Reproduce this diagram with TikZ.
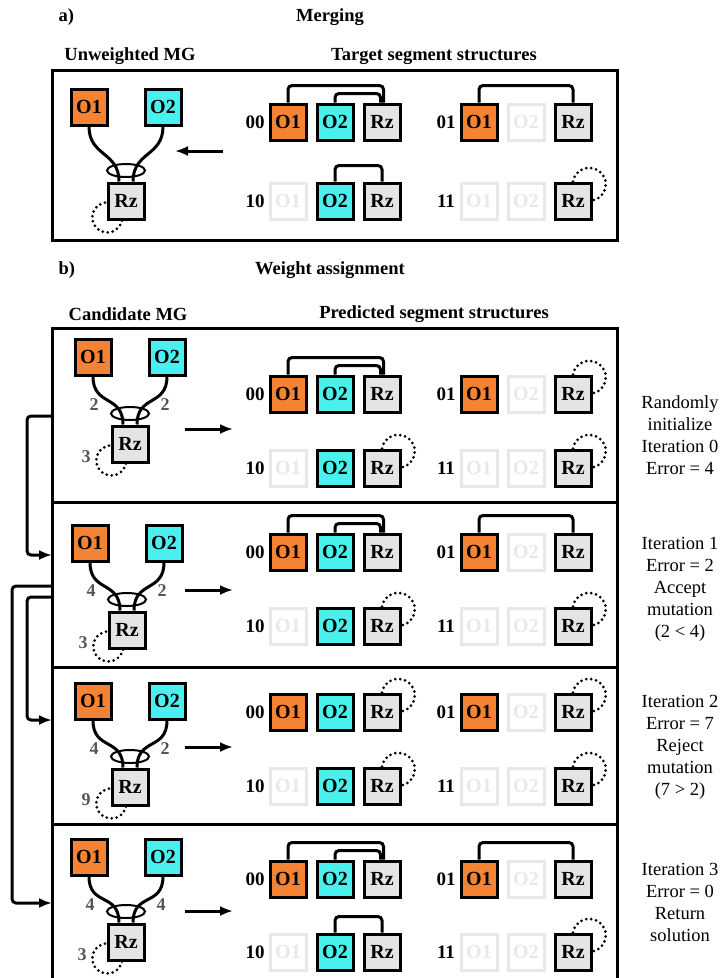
\documentclass[tikz,border=0pt]{standalone}
\usepackage{fontspec}
\setmainfont{Liberation Serif}
\usetikzlibrary{calc,arrows.meta}

\definecolor{BoxOrange}{RGB}{245,131,52}
\definecolor{BoxCyan}{RGB}{74,240,238}
\definecolor{BoxGrey}{RGB}{228,228,228}
\definecolor{BoxFaded}{RGB}{232,232,232}
\definecolor{WeightGrey}{RGB}{85,85,85}

\tikzset{
  box/.style={draw, line width=3pt, minimum size=36pt, inner sep=0pt,
    font=\fontsize{20}{22}\selectfont\bfseries},
  oonebox/.style={box, fill=BoxOrange},
  otwobox/.style={box, fill=BoxCyan},
  rzbox/.style={box, fill=BoxGrey},
  fadedbox/.style={box, draw=BoxFaded, text=BoxFaded},
  labelcode/.style={font=\fontsize{19}{22}\selectfont\bfseries},
  title/.style={font=\fontsize{18.5}{22}\selectfont\bfseries},
  note/.style={font=\fontsize{18.5}{22}\selectfont, align=center},
  weight/.style={font=\fontsize{18}{20}\selectfont\bfseries, text=WeightGrey},
  link/.style={line width=3pt, rounded corners=4pt},
  mgline/.style={line width=3pt},
  ring/.style={line width=2pt},
  dotloop/.style={line width=3pt, line cap=round, dash pattern=on 0pt off 5pt},
  flow/.style={line width=3pt, -{Latex[length=13pt, width=10pt]}},
  panelframe/.style={line width=3pt},
}

% grafo O1, O2 -> Rz
\newcommand{\mgraph}[4]{%
  \node[oonebox] (#1o1) at (#2,#3) {O1};
  \node[otwobox] (#1o2) at (#2+74,#3) {O2};
  \node[rzbox] (#1rz) at (#2+37,#4) {Rz};
  \draw[ring] ($(#1rz.north)+(0,-11)$) ellipse[x radius=19, y radius=6.5];
  \draw[mgline] (#1o1.south) .. controls +(0,30) and +(0,-30) .. ($(#1rz.north)+(-7,0)$);
  \draw[mgline] (#1o2.south) .. controls +(0,30) and +(0,-30) .. ($(#1rz.north)+(7,0)$);
  \draw[dotloop] ($(#1rz.south)+(-4,0)$) arc[start angle=12, end angle=262, radius=15];
}

% estructura de segmentos
\newcommand{\segment}[6]{%
  \node[labelcode] (#1lab) at (#3,#4) {#2};
  \node[#5] (#1o1) at (#3+33,#4) {O1};
  \node[#6] (#1o2) at (#3+80,#4) {O2};
  \node[rzbox] (#1rz) at (#3+127,#4) {Rz};
}
\newcommand{\linkboth}[1]{%
  \draw[link] (#1o1.north) -- ++(0,-17) -| ($(#1rz.north)+(1.5,0)$);
  \draw[link] (#1o2.north) -- ++(0,-9) -| ($(#1rz.north)+(-1.5,0)$);
}
\newcommand{\linkone}[1]{\draw[link] (#1o1.north) -- ++(0,-17) -| (#1rz.north);}
\newcommand{\linktwo}[1]{\draw[link] (#1o2.north) -- ++(0,-16) -| (#1rz.north);}
\newcommand{\selfloop}[1]{\draw[dotloop] (#1rz.north) arc[start angle=190, end angle=440, radius=16.5];}

\begin{document}
\begin{tikzpicture}[x=1pt, y=-1pt]

    \clip (0,0) rectangle (722,978);

    % Titulos
    \node[title, anchor=west] (tagA) at (55,17) {a)};
    \node[title] (mergeTitle) at (330,17) {Merging};
    \node[title] (mgTitleA) at (130,56) {Unweighted MG};
    \node[title] (segTitleA) at (434,56) {Target segment structures};
    \node[title, anchor=west] (tagB) at (55,270) {b)};
    \node[title] (weightTitle) at (330,270) {Weight assignment};
    \node[title] (mgTitleB) at (128,314) {Candidate MG};
    \node[title] (segTitleB) at (434,314) {Predicted segment structures};

    % Marcos
    \draw[panelframe] (52,70) rectangle (617,240);
    \draw[panelframe] (52,328) rectangle (617,1000);
    \foreach \y in {502,667,824}
        \draw[panelframe] (52,\y) -- (617,\y);

    % Grafos
    \mgraph{ma}{89}{107}{201}
    \mgraph{mb}{93}{357}{444}
    \mgraph{mc}{90}{543}{630}
    \mgraph{md}{93}{701}{787}
    \mgraph{me}{89}{857}{942}

    \foreach \m/\wl/\wr/\wz in {mb/2/2/3, mc/4/2/3, md/4/2/9, me/4/4/3} {
        \node[weight] (\m wl) at ($(\m o1.south)+(1,28)$) {\wl};
        \node[weight] (\m wr) at ($(\m o2.south)+(-2,28)$) {\wr};
        \node[weight] (\m wz) at ($(\m rz)+(-44,13)$) {\wz};
    }

    % Estructuras
    \foreach \p/\ya/\yb in {a/122/201, b/394/468, c/552/626, d/712/786, e/879/952} {
        \segment{\p00}{00}{255}{\ya}{oonebox}{otwobox}
        \segment{\p01}{01}{446}{\ya}{oonebox}{fadedbox}
        \segment{\p10}{10}{255}{\yb}{fadedbox}{otwobox}
        \segment{\p11}{11}{446}{\yb}{fadedbox}{fadedbox}
    }

    \linkboth{a00} \linkone{a01} \linktwo{a10} \selfloop{a11}
    \linkboth{b00} \selfloop{b01} \selfloop{b10} \selfloop{b11}
    \linkboth{c00} \linkone{c01} \selfloop{c10} \selfloop{c11}
    \selfloop{d00} \selfloop{d01} \selfloop{d10} \selfloop{d11}
    \linkboth{e00} \linkone{e01} \linktwo{e10} \selfloop{e11}

    % Flechas
    \coordinate (aFrom) at (223,151);
    \coordinate (aTo) at (175,151);
    \draw[flow] (aFrom) -- (aTo);
    \foreach \m/\y in {b/429, c/590, d/747, e/911} {
        \coordinate (\m From) at (185,\y);
        \coordinate (\m To) at (233,\y);
        \draw[flow] (\m From) -- (\m To);
    }

    \coordinate (loopOneOut) at (52,416);
    \coordinate (loopOneIn) at (52,555);
    \coordinate (loopTwoOut) at (52,586);
    \coordinate (loopTwoIn) at (52,903);
    \coordinate (loopThreeOut) at (52,597);
    \coordinate (loopThreeIn) at (52,720);
    \draw[flow, rounded corners=4pt] (loopOneOut) -- ++(-25,0) |- (loopOneIn);
    \draw[flow, rounded corners=4pt] (loopTwoOut) -- ++(-40,0) |- (loopTwoIn);
    \draw[flow, rounded corners=4pt] (loopThreeOut) -- ++(-25,0) |- (loopThreeIn);

    % Notas
    \node[note] (noteB) at (680,435) {Randomly\\initialize\\Iteration 0\\Error = 4};
    \node[note] (noteC) at (680,589) {Iteration 1\\Error = 2\\Accept\\mutation\\(2 < 4)};
    \node[note] (noteD) at (680,747) {Iteration 2\\Error = 7\\Reject\\mutation\\(7 > 2)};
    \node[note] (noteE) at (680,902) {Iteration 3\\Error = 0\\Return\\solution};
\end{tikzpicture}
\end{document}
